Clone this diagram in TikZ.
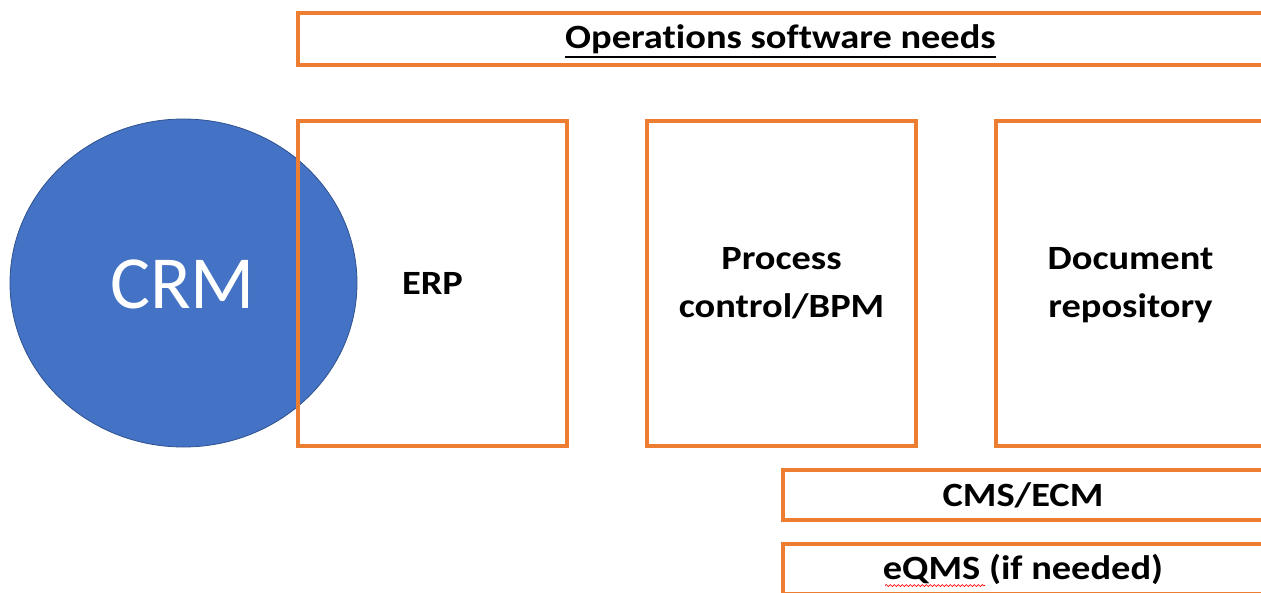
\documentclass[tikz,border=0pt]{standalone}
\usepackage{fontspec}
\setmainfont{Carlito}[Ligatures=CommonOff,BoldFeatures={FakeStretch=1.13}]
\usetikzlibrary{shapes.geometric,decorations.pathmorphing}
\definecolor{offorange}{HTML}{ED7D31}
\definecolor{offblue}{HTML}{4472C4}
\definecolor{offblueline}{HTML}{2F528F}
\newcommand\myuline[1]{\setbox0\hbox{#1}\rlap{\rule[-10pt]{\wd0}{2pt}}\rule{0pt}{28pt}\box0}
\begin{document}
\begin{tikzpicture}[x=1pt,y=-1pt,
  obox/.style={draw=offorange,line width=3.5pt,rectangle,inner sep=0pt,
    font=\fontsize{34}{48}\selectfont\bfseries,align=center,text=black},
  crmstyle/.style={ellipse,fill=offblue,draw=offblueline,line width=0.8pt,
    inner sep=0pt}]
\useasboundingbox (0,0) rectangle (1261,592);
\begin{scope}
\clip (0,0) rectangle (1261,592);
\node[crmstyle,minimum width=347pt,minimum height=328pt] (crm) at (183.5,283) {};
\node[text=white,font=\fontsize{75}{90}\selectfont,inner sep=0pt] (crmtext) at (182.5,284) {CRM};
\node[obox,minimum width=965pt,minimum height=52pt] (ops) at (780.5,39) {\myuline{Operations software needs}};
\node[obox,minimum width=269pt,minimum height=325pt] (erp) at (432.5,283.5) {ERP};
\node[obox,minimum width=269pt,minimum height=325pt] (bpm) at (781.5,283.5) {Process\\control/BPM};
\node[obox,minimum width=269pt,minimum height=325pt] (doc) at (1130.5,283.5) {\raisebox{0pt}[26pt][0pt]{Document}\\repository};
\node[obox,minimum width=480pt,minimum height=50pt] (cms) at (1023,495) {CMS/ECM};
\node[obox,minimum width=480pt,minimum height=50pt] (eqms) at (1023,569) {eQMS (if needed)};
\draw[red,line width=0.7pt,decorate,decoration={snake,amplitude=1pt,segment length=4pt}] (885,585.5) -- (985,585.5);
\end{scope}
\end{tikzpicture}
\end{document}
